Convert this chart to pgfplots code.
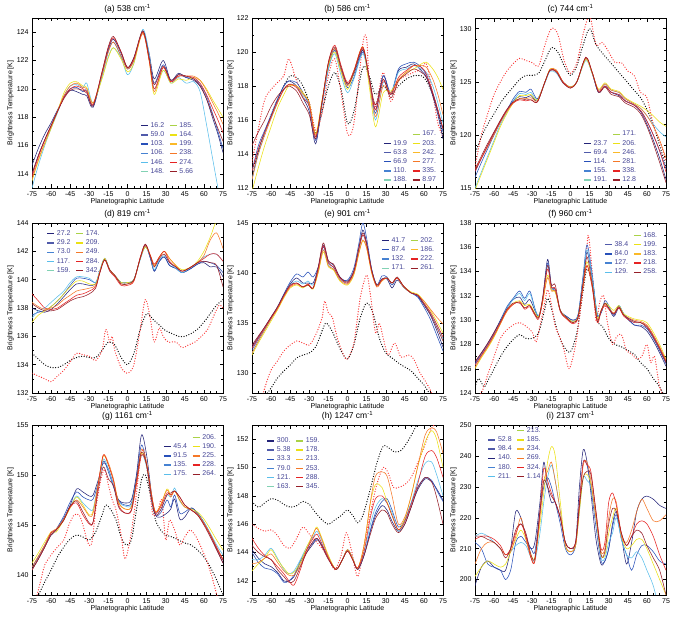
\documentclass[border=0pt]{standalone}
\usepackage{fontspec}
\setmainfont{Liberation Sans}
\usepackage{pgfplots}
\usepackage{pgfplotstable}
\pgfplotsset{compat=1.18}

\definecolor{L1}{RGB}{35,35,120}
\definecolor{L2}{RGB}{80,90,170}
\definecolor{L3}{RGB}{40,80,185}
\definecolor{L4}{RGB}{70,130,210}
\definecolor{L5}{RGB}{90,190,235}
\definecolor{L6}{RGB}{130,210,180}
\definecolor{L7}{RGB}{170,210,70}
\definecolor{L8}{RGB}{235,225,20}
\definecolor{L9}{RGB}{250,185,40}
\definecolor{L10}{RGB}{245,120,40}
\definecolor{L11}{RGB}{230,35,35}
\definecolor{L12}{RGB}{150,30,40}
\definecolor{legtext}{RGB}{70,70,150}
\definecolor{dotred}{RGB}{250,50,50}

\pgfplotsset{
  panel/.style={
    scale only axis, width=191pt, height=170pt, anchor=north west,
    xmin=-75, xmax=75, xtick={-75,-60,...,75}, minor x tick num=2,
    tick align=inside, major tick length=3.5pt, minor tick length=2pt,
    every tick/.style={black, line width=0.4pt},
    axis line style={line width=0.5pt},
    tick label style={font=\fontsize{7}{8}\selectfont},
    /pgf/number format/assume math mode=true,
    scaled y ticks=false,
    xlabel={Planetographic Latitude}, ylabel={Brightness Temperature [K]},
    label style={font=\fontsize{7}{8}\selectfont},
    xlabel style={yshift=5pt}, ylabel style={yshift=-4pt},
    title style={font=\fontsize{8.5}{9}\selectfont, yshift=-5pt},
    transpose legend, legend columns=6, legend cell align=left,
    legend style={draw=none, fill=none, text=legtext,
      font=\fontsize{7}{7.5}\selectfont, row sep=-1.2pt,
      /tikz/every even column/.append style={column sep=3pt},
      /tikz/every odd column/.append style={column sep=0pt}},
    legend image code/.code={\draw[#1, line width=1.3pt] (0pt,0pt) -- (7pt,0pt);},
    every axis plot/.append style={smooth, line width=0.55pt},
  },
  dotstyle/.style={line width=1.3pt, dash pattern=on 0pt off 2.6pt, line cap=round},
}

\newcommand\solids[1]{%
  \addplot[L1, forget plot] table[x=x, y=n]{#1};
  \addplot[L3, forget plot] table[x=x, y=b]{#1};
  \addplot[L5, forget plot] table[x=x, y=c]{#1};
  \addplot[L8, forget plot] table[x=x, y=y]{#1};
  \addplot[L10, forget plot] table[x=x, y=o]{#1};
  \addplot[L11, forget plot] table[x=x, y=r]{#1};
  \addplot[L12, forget plot] table[x=x, y=d]{#1};
}
\newcommand\dotk[1]{\addplot[black, dotstyle, forget plot] table{#1};}
\newcommand\dotr[1]{\addplot[dotred, dotstyle, forget plot] table{#1};}
\newcommand\lgd[2]{\addlegendimage{#1}\addlegendentry{#2}}
\newcommand\lgdempty{\addlegendimage{empty legend}\addlegendentry{\phantom{0}}}

% (a) 538
\pgfplotstableread{
x n b c y o r d
-75 114.6 114.0 113.0 113.5 113.6 113.8 114.0
-70 115.8 115.3 114.6 114.9 115.0 115.2 115.3
-65 116.8 116.4 116.0 116.1 116.2 116.4 116.4
-60 117.6 117.4 117.2 117.2 117.3 117.4 117.4
-55 118.5 118.4 118.3 118.4 118.4 118.4 118.4
-50 119.4 119.4 119.5 119.7 119.5 119.4 119.3
-45 119.9 120.0 120.2 120.4 120.2 120.0 119.9
-40 119.8 120.1 120.3 120.5 120.4 120.2 120.0
-35 119.6 119.8 120.1 120.2 120.1 120.0 119.9
-32 119.5 119.9 120.4 120.1 120.0 119.8 119.7
-27 118.7 118.8 119.0 119.0 119.0 118.9 118.8
-20 121.0 121.0 120.8 120.7 121.0 121.2 121.2
-15 122.8 122.7 122.3 122.2 122.6 122.9 123.0
-11 123.5 123.3 122.9 122.9 123.3 123.6 123.7
-5 122.5 122.3 122.2 122.1 122.3 122.6 122.6
0 121.5 121.4 121.0 121.2 121.4 121.5 121.5
5 122.2 122.0 121.8 121.8 122.0 122.1 122.2
12 124.0 124.1 124.2 124.0 123.9 124.0 124.1
17 122.5 122.3 122.5 122.0 122.0 122.0 122.2
21 120.7 120.4 120.0 119.6 119.8 120.0 120.3
28 122.0 121.7 121.3 121.3 121.5 121.5 121.6
34 120.6 120.6 120.4 120.4 120.5 120.5 120.6
40 121.1 121.0 120.8 120.7 120.9 120.9 121.0
46 120.8 120.8 120.4 120.6 120.9 120.9 120.9
52 120.6 120.7 120.5 120.8 120.9 120.8 120.7
57 120.2 120.3 119.8 120.6 120.6 120.4 120.2
62 119.3 119.5 117.5 120.0 119.9 119.6 119.3
67 117.9 118.2 115.0 119.2 119.0 118.6 118.1
71 116.8 117.0 113.0 118.6 118.3 117.8 117.2
75 115.5 115.8 111.0 118.0 117.5 116.9 116.3
}\TA

% (b) 586
\pgfplotstableread{
x n b c y o r d
-75 112.5 113.0 112.5 111.8 112.5 113.0 114.5
-70 114.2 114.5 114.0 113.2 114.0 114.3 115.3
-65 115.3 115.4 115.2 114.5 115.1 115.3 116.0
-60 116.2 116.3 116.1 115.6 116.1 116.2 116.8
-55 117.2 117.2 117.0 116.7 117.0 117.1 117.4
-50 118.0 118.0 117.8 117.5 117.8 117.8 117.8
-46 118.3 118.3 118.1 118.0 118.1 118.1 118.0
-40 118.0 118.2 118.0 118.0 118.0 117.9 117.7
-35 117.3 117.6 117.4 117.6 117.5 117.3 117.0
-30 116.5 116.8 116.8 117.0 117.0 116.8 116.3
-25 114.6 114.8 115.0 115.2 115.1 115.0 114.9
-20 117.0 116.9 116.9 117.2 117.1 117.0 117.1
-15 119.2 119.0 119.0 119.2 119.3 119.4 119.4
-10 120.2 120.1 119.9 120.0 120.2 120.4 120.3
-5 119.0 118.9 118.6 118.8 119.0 119.2 119.1
0 118.1 117.9 117.6 117.8 118.0 118.2 118.1
5 118.7 118.5 118.4 118.8 118.9 118.9 118.8
12 120.1 120.0 119.9 120.3 120.3 120.3 120.2
17 118.5 118.4 118.3 118.0 118.3 118.5 118.5
22 116.6 116.4 116.0 115.6 116.2 116.6 116.9
28 118.6 118.6 118.2 117.6 118.0 118.3 118.4
34 117.5 117.6 117.6 117.7 117.6 117.5 117.3
40 118.9 119.0 118.8 118.3 118.4 118.5 118.3
46 119.1 119.3 119.0 118.8 118.8 118.9 118.7
52 119.3 119.4 119.2 119.0 119.2 119.2 119.0
58 118.9 119.1 119.0 119.3 119.2 119.1 118.8
62 118.5 118.6 118.8 119.4 119.1 118.7 118.5
67 117.4 117.6 118.0 119.0 118.4 117.6 117.5
71 116.3 116.5 117.0 118.5 117.5 116.6 116.5
75 114.9 115.3 115.8 117.8 116.3 115.5 115.5
}\TB
\pgfplotstableread{
-75 113.0
-60 116.3
-50 118.0
-45 118.6
-40 118.5
-35 118.0
-30 117.0
-25 115.2
-20 116.5
-15 118.0
-10 118.8
-5 117.8
0 115.8
5 116.5
12 119.1
17 118.6
22 117.5
28 118.0
34 117.5
40 118.0
46 118.4
52 118.6
58 118.6
62 118.3
67 117.5
71 116.5
75 115.0
}\TBk
\pgfplotstableread{
-75 113.5
-70 115.5
-65 117.2
-60 117.8
-55 118.2
-50 118.6
-46 119.6
-40 118.3
-35 117.6
-30 117.0
-25 115.4
-20 116.4
-15 118.6
-10 119.6
-5 117.6
0 115.2
5 115.8
12 120.5
15 120.8
17 118.5
22 116.8
28 118.8
34 117.1
40 118.3
46 118.6
52 118.8
58 119.0
62 119.3
67 117.5
71 115.8
75 115.0
}\TBr

% (c) 744
\pgfplotstableread{
x n b c y o r d
-75 116.5 116.0 115.0 114.8 116.8 116.6 116.8
-70 117.8 117.4 116.5 116.3 117.8 117.8 118.0
-65 119.0 118.7 118.0 117.8 118.9 119.0 119.2
-60 120.2 120.0 119.5 119.3 120.0 120.2 120.3
-55 121.3 121.2 121.0 120.8 121.2 121.3 121.4
-50 122.3 122.3 122.1 122.0 122.2 122.3 122.4
-45 123.2 123.4 123.2 123.0 123.0 123.0 123.1
-40 123.6 124.1 123.9 123.7 123.4 123.3 123.4
-35 123.5 124.0 123.8 123.7 123.4 123.2 123.3
-31 123.7 124.3 124.0 123.8 123.5 123.3 123.3
-26 123.2 123.4 123.3 123.3 123.2 123.1 123.1
-20 125.0 125.0 124.9 125.0 125.0 125.0 125.0
-16 126.1 126.1 126.0 126.2 126.2 126.1 126.1
-11 126.0 126.0 125.8 126.0 126.1 126.0 125.9
-6 125.0 125.0 124.9 125.0 125.0 125.0 124.9
0 124.5 124.5 124.5 124.5 124.5 124.4 124.4
5 125.0 125.0 125.0 125.0 125.0 125.0 125.0
12 127.2 127.2 127.0 127.1 127.2 127.3 127.3
17 125.8 125.8 125.8 125.8 125.9 125.9 125.9
22 124.0 124.0 124.2 124.3 124.2 124.1 124.0
27 124.6 124.6 124.8 124.9 124.8 124.6 124.5
32 124.0 124.0 124.2 124.3 124.2 124.0 123.8
38 123.7 123.8 124.0 124.1 124.0 123.8 123.6
43 123.2 123.2 123.4 123.5 123.4 123.2 123.0
50 122.8 122.8 122.9 123.0 122.9 122.8 122.6
55 122.2 122.3 122.5 122.7 122.5 122.3 122.0
60 121.0 121.3 121.8 122.3 121.8 121.3 120.8
65 119.5 120.0 121.0 121.8 120.8 120.0 119.2
70 117.8 118.5 120.3 121.2 119.5 118.5 117.4
75 115.8 116.8 119.8 120.8 117.8 116.5 115.5
}\TC
\pgfplotstableread{
-75 118.2
-70 119.8
-65 121.0
-60 122.0
-55 123.0
-50 123.8
-45 124.5
-40 125.2
-35 125.6
-30 125.6
-25 125.8
-20 127.0
-15 128.2
-10 127.8
-5 126.5
0 125.6
5 126.5
10 128.5
15 130.0
20 128.5
25 127.7
30 127.0
35 126.3
40 125.6
45 124.9
50 124.2
55 123.5
60 122.4
65 121.0
70 119.0
75 117.0
}\TCk
\pgfplotstableread{
-75 117.0
-70 120.0
-65 122.0
-60 123.8
-55 125.0
-50 126.0
-45 126.7
-40 127.2
-35 127.0
-30 126.8
-25 126.5
-20 128.5
-15 130.0
-10 129.5
-5 127.0
0 125.8
5 126.8
10 129.5
15 131.2
20 128.5
25 128.7
30 127.8
35 126.8
40 126.8
45 126.0
50 125.6
55 124.0
60 123.5
65 121.0
70 119.5
75 117.5
}\TCr

% (d) 819
\pgfplotstableread{
x n b c y o r d
-75 138.0 137.5 137.3 137.0 138.4 139.0 138.3
-70 137.8 137.7 137.8 137.5 138.1 138.5 138.0
-65 137.7 137.8 138.0 137.8 137.9 138.0 137.8
-60 137.9 138.1 138.4 138.1 138.0 137.9 137.8
-55 138.3 138.5 138.8 138.5 138.2 138.0 137.9
-50 138.8 139.0 139.2 139.0 138.6 138.3 138.2
-45 139.3 139.6 139.8 139.5 138.9 138.6 138.5
-40 139.7 140.1 140.2 139.9 139.2 138.9 138.7
-35 139.7 140.1 140.2 139.9 139.3 139.0 138.8
-30 139.6 140.0 140.1 139.7 139.4 139.2 139.0
-25 139.7 139.8 139.8 139.7 139.6 139.5 139.4
-22 140.5 140.5 140.6 140.5 140.5 140.4 140.4
-18 141.5 141.5 141.5 141.5 141.4 141.4 141.4
-14 140.7 140.7 140.6 140.7 140.7 140.6 140.7
-10 140.3 140.3 140.3 140.3 140.3 140.2 140.3
-5 139.8 139.8 139.8 139.8 139.7 139.6 139.7
0 139.8 139.8 139.8 139.8 139.7 139.6 139.7
5 140.0 140.0 140.0 140.0 139.9 139.9 140.0
10 141.5 141.5 141.4 141.5 141.5 141.6 141.5
14 142.5 142.4 142.3 142.3 142.4 142.5 142.5
18 141.5 141.5 141.6 141.7 141.7 141.7 141.6
21 140.6 140.6 140.7 141.0 141.0 141.1 140.9
25 141.3 141.3 141.4 141.6 141.6 141.6 141.5
29 141.6 141.6 141.7 142.0 142.0 142.0 141.8
33 141.0 141.0 141.2 141.5 141.5 141.3 141.2
38 140.8 140.8 140.8 141.0 141.0 140.9 140.9
43 140.5 140.5 140.5 140.7 140.6 140.6 140.6
50 140.8 140.8 140.9 140.9 140.9 140.9 140.9
55 141.1 141.1 141.2 141.3 141.2 141.2 141.2
60 141.2 141.3 141.6 142.0 141.7 141.5 141.3
65 140.9 141.2 141.8 143.0 142.8 141.8 141.2
70 140.9 141.0 141.8 144.2 143.3 141.8 141.0
75 140.2 140.5 141.3 144.5 142.2 141.3 139.5
}\TD
\pgfplotstableread{
-75 134.8
-70 134.4
-65 134.0
-60 133.8
-55 133.8
-50 134.0
-45 134.3
-40 134.5
-35 134.6
-30 134.5
-25 134.5
-20 135.0
-15 135.6
-10 135.4
-5 134.5
0 134.0
5 134.8
10 136.5
15 137.6
20 137.2
25 136.8
30 136.4
35 136.2
40 136.0
45 136.0
50 136.2
55 136.5
60 137.0
65 137.6
70 138.2
75 138.6
}\TDk
\pgfplotstableread{
-75 133.4
-70 133.2
-65 133.0
-60 132.8
-55 133.2
-50 133.6
-45 134.2
-40 134.8
-35 134.7
-30 134.6
-25 134.3
-20 135.0
-17 136.5
-14 135.6
-12 136.0
-10 135.0
-5 133.8
0 133.4
5 134.0
10 136.5
14 138.6
18 137.2
21 135.6
25 136.6
28 136.0
32 135.6
38 135.6
43 135.2
48 135.4
53 135.6
58 136.0
63 136.5
68 137.5
72 138.2
75 138.0
}\TDr

% (e) 901
\pgfplotstableread{
x n b c y o r d
-75 132.6 132.3 132.0 131.8 132.0 132.5 132.8
-70 133.6 133.4 133.2 133.0 133.2 133.5 133.7
-65 134.6 134.4 134.3 134.1 134.3 134.5 134.6
-60 135.6 135.5 135.4 135.2 135.4 135.5 135.6
-55 136.6 136.6 136.5 136.3 136.4 136.5 136.6
-50 137.8 137.9 137.7 137.5 137.6 137.7 137.8
-45 138.9 139.1 138.8 138.5 138.6 138.7 138.8
-40 139.5 139.9 139.2 138.8 138.9 139.0 139.0
-35 139.0 139.6 138.9 138.5 138.6 138.6 138.6
-31 139.0 140.1 139.2 138.8 138.9 138.9 138.8
-27 139.0 139.6 138.8 138.4 138.5 138.5 138.5
-23 140.5 140.6 140.2 140.0 140.1 140.4 140.6
-19 142.8 142.6 142.3 142.1 142.3 142.7 143.0
-15 141.2 141.0 140.8 140.6 140.7 141.0 141.2
-11 140.8 140.6 140.4 140.3 140.4 140.6 140.9
-6 139.6 139.5 139.4 139.2 139.3 139.5 139.6
0 139.2 139.3 139.0 138.8 138.9 139.0 139.1
5 140.2 140.5 140.1 139.8 139.9 140.1 140.2
9 142.5 143.0 142.3 142.0 142.0 142.4 142.6
12 144.3 145.0 143.8 143.2 143.3 143.8 144.0
15 143.0 143.5 142.8 142.5 142.5 142.8 143.0
19 140.3 140.4 140.2 140.0 140.0 140.2 140.3
23 138.8 138.8 138.8 138.7 138.6 138.7 138.8
27 139.4 139.7 139.4 139.2 139.2 139.3 139.4
31 139.4 139.6 139.5 139.5 139.5 139.5 139.5
35 138.5 138.8 139.0 139.0 139.0 139.0 139.0
39 139.3 139.5 139.5 139.5 139.5 139.5 139.6
44 138.6 138.6 138.6 138.7 138.6 138.7 138.7
50 138.0 138.0 138.0 138.1 138.0 138.0 138.0
55 137.7 137.6 137.8 137.9 137.8 137.8 137.8
60 136.8 136.6 137.0 137.2 137.2 137.0 136.9
65 135.8 135.4 136.0 136.3 136.4 136.1 135.9
70 134.3 133.8 134.8 135.2 135.6 134.9 134.6
75 132.6 132.2 133.4 134.0 134.9 133.6 133.2
}\TE
\pgfplotstableread{
-75 125.0
-70 126.5
-65 127.6
-60 128.5
-55 129.5
-50 130.2
-45 130.8
-40 131.5
-35 131.8
-30 132.0
-25 132.6
-20 134.2
-17 135.0
-13 134.4
-10 133.6
-5 132.2
0 131.4
5 132.8
10 135.5
15 137.0
20 136.0
25 133.5
30 132.0
35 131.5
40 131.0
45 130.6
50 130.2
55 129.5
60 128.8
65 127.8
70 126.4
75 125.0
}\TEk
\pgfplotstableread{
-75 122.0
-70 126.0
-65 128.5
-60 130.3
-55 131.2
-50 132.2
-45 132.8
-40 133.2
-35 133.0
-30 132.8
-25 133.8
-20 135.5
-18 137.2
-15 136.0
-12 135.6
-8 133.5
-3 131.8
0 131.4
5 133.0
10 137.5
15 139.8
18 137.8
22 134.0
25 135.0
28 133.5
32 131.8
37 133.0
42 131.6
48 131.8
52 131.4
57 130.0
62 129.0
66 128.0
70 126.5
75 124.5
}\TEr

% (f) 960
\pgfplotstableread{
x n b c y o r d
-75 126.5 126.4 126.3 126.0 126.1 126.3 126.6
-70 127.3 127.2 127.1 126.9 127.0 127.1 127.3
-65 128.1 128.0 127.9 127.7 127.8 127.9 128.1
-60 129.0 128.9 128.8 128.6 128.7 128.8 129.0
-55 130.0 130.0 129.9 129.7 129.7 129.8 129.9
-50 131.0 131.1 131.0 130.8 130.7 130.8 130.9
-45 131.7 131.8 131.7 131.4 131.3 131.3 131.4
-40 131.9 132.4 132.2 131.6 131.5 131.5 131.4
-36 131.3 131.8 131.6 131.2 131.0 130.9 131.0
-32 131.7 132.4 132.2 131.3 131.2 131.1 131.2
-28 130.8 131.0 130.9 130.6 130.5 130.4 130.5
-25 130.3 130.3 130.4 130.3 130.2 130.1 130.2
-22 131.6 131.5 131.5 131.5 131.4 131.6 131.8
-18 135.0 134.7 134.5 133.7 133.5 134.2 134.5
-15 132.8 132.7 132.6 132.5 132.4 132.7 132.9
-12 132.5 132.4 132.4 132.3 132.4 132.6 132.9
-8 130.8 130.8 130.8 130.8 130.8 130.7 130.8
-3 130.3 130.3 130.2 130.2 130.1 130.1 130.2
2 130.0 130.0 129.9 129.9 129.8 129.7 129.8
6 130.4 130.5 130.4 130.3 130.3 130.2 130.3
10 133.5 133.8 133.5 133.0 132.8 133.0 133.2
13 135.6 136.2 135.8 134.8 134.5 134.5 135.2
17 133.5 133.8 133.6 133.0 132.8 132.7 133.0
21 130.5 130.4 130.5 130.2 130.0 129.8 130.0
24 130.6 130.6 130.7 130.8 130.8 130.7 130.8
27 131.4 131.6 131.4 131.4 131.3 131.2 131.4
30 131.0 131.2 131.1 131.2 131.0 130.9 131.0
34 130.3 130.4 130.5 130.8 130.6 130.5 130.5
38 131.0 131.2 131.2 131.2 131.1 131.0 131.1
42 130.4 130.5 130.5 130.5 130.4 130.3 130.4
50 129.6 129.6 129.8 130.1 130.0 129.8 129.9
55 129.5 129.6 129.8 130.0 129.9 129.8 129.8
60 129.1 129.3 129.5 129.8 129.6 129.5 129.4
65 128.3 128.5 128.7 129.0 128.8 128.7 128.6
70 127.3 127.5 127.7 128.0 127.8 127.7 127.6
75 126.2 126.4 126.6 126.8 126.7 126.6 126.5
}\TF
\pgfplotstableread{
-75 124.5
-72 125.2
-68 124.5
-65 125.0
-60 126.0
-55 127.0
-50 127.8
-45 128.4
-40 128.8
-35 128.5
-30 128.5
-25 129.0
-20 131.0
-18 131.8
-15 131.0
-10 129.0
-5 127.8
0 127.4
5 129.0
10 132.5
13 134.2
17 133.0
21 130.0
25 129.5
30 128.5
35 128.0
40 127.8
45 127.5
50 127.2
55 126.5
60 126.0
65 125.2
70 124.5
75 123.5
}\TFk
\pgfplotstableread{
-75 123.5
-70 124.0
-65 125.5
-60 127.0
-55 128.5
-50 129.2
-45 129.6
-40 129.8
-35 129.5
-30 129.0
-27 128.2
-24 129.5
-21 131.0
-18 132.5
-15 131.3
-12 129.5
-8 128.5
-5 127.5
-1 126.0
4 128.0
8 131.0
12 134.8
14 137.0
17 134.0
20 130.0
23 131.5
26 132.0
29 129.8
33 128.0
36 128.6
40 128.8
44 127.5
48 127.2
52 126.8
56 127.0
60 128.0
63 126.5
66 127.0
70 124.5
75 123.5
}\TFr

% (g) 1161
\pgfplotstableread{
x n b c y o r d
-75 140.6 140.8 140.5 141.2 140.8 140.5 140.5
-70 141.6 141.8 141.6 142.2 141.9 141.6 141.6
-65 142.8 143.0 142.8 143.3 143.0 142.8 142.8
-60 144.0 144.2 144.0 144.3 144.3 144.2 144.0
-56 144.5 144.6 144.5 144.3 144.6 144.5 144.5
-50 145.7 145.9 145.6 145.5 145.6 145.5 145.5
-45 147.0 147.3 146.8 146.7 146.8 146.8 146.9
-40 148.6 148.3 147.9 147.8 147.5 147.2 147.4
-35 148.3 147.8 147.2 147.0 146.8 146.0 146.3
-30 147.9 147.5 146.6 146.0 145.9 145.1 145.2
-27 148.0 147.6 146.6 146.4 146.2 145.3 145.3
-23 149.5 149.2 149.2 149.0 149.2 149.0 148.5
-19 151.2 151.4 151.6 151.9 152.0 152.0 150.8
-15 150.6 150.3 150.6 151.0 151.2 151.0 149.6
-11 149.0 148.8 149.0 149.5 149.6 149.4 148.9
-7 147.5 147.4 147.3 147.2 147.3 147.0 146.8
-2 147.2 147.0 146.9 146.6 146.6 146.2 146.2
3 147.5 147.2 147.0 146.8 146.8 146.4 146.5
7 150.0 149.8 149.5 149.2 149.3 149.0 149.5
11 154.0 153.0 152.0 152.2 152.6 152.0 152.3
15 152.0 151.0 150.8 151.0 151.2 151.0 151.0
19 148.0 147.5 147.5 147.8 148.0 147.8 147.5
22 146.0 146.0 146.2 146.3 146.3 146.2 146.0
26 145.8 146.2 146.5 147.0 147.0 146.8 146.5
31 146.2 147.5 148.0 148.6 148.5 148.2 148.0
34 146.6 146.8 147.8 148.0 147.8 148.0 148.2
37 147.6 148.0 148.7 148.4 148.4 148.4 148.4
41 145.6 146.2 147.4 147.5 147.5 147.8 147.8
45 145.8 146.3 146.8 146.8 146.8 147.0 147.0
50 146.7 146.7 146.5 146.6 146.5 146.5 146.5
55 146.2 146.2 146.1 146.3 146.1 146.0 146.0
60 145.2 145.3 145.3 145.6 145.2 145.1 145.0
65 144.0 144.1 144.2 144.6 144.1 144.0 143.8
70 142.6 142.8 143.0 143.5 142.8 142.7 142.5
75 141.2 141.5 142.0 142.5 141.6 141.5 141.2
}\TG
\pgfplotstableread{
-75 137.0
-70 138.0
-65 139.3
-60 140.5
-55 141.8
-50 142.8
-45 143.6
-40 144.0
-35 143.8
-30 143.5
-25 144.3
-20 146.0
-17 147.0
-13 146.5
-9 145.5
-5 143.8
-1 143.0
3 143.5
7 146.5
11 149.5
14 150.0
18 148.0
22 145.5
26 144.5
30 144.0
35 143.8
40 143.5
45 143.2
50 143.0
55 142.5
60 141.8
65 140.8
70 139.5
75 138.0
}\TGk
\pgfplotstableread{
-75 136.0
-72 137.5
-68 139.5
-65 141.0
-60 142.0
-55 142.8
-50 143.5
-46 145.0
-42 146.0
-38 146.0
-35 145.0
-31 143.2
-28 143.2
-25 146.5
-21 149.5
-18 150.5
-15 149.0
-12 147.5
-9 146.5
-5 144.0
-2 141.6
2 143.5
6 147.0
10 151.5
13 152.5
17 149.0
20 146.0
24 146.5
27 147.5
30 143.5
33 145.5
37 144.5
41 143.0
45 143.8
49 144.5
53 144.0
57 143.0
62 141.5
67 139.5
72 137.0
75 135.0
}\TGr

% (h) 1247
\pgfplotstableread{
x n b c y o r d
-75 144.2 144.0 143.5 142.7 143.2 145.0 144.5
-70 143.6 143.3 143.5 143.2 143.3 144.3 144.0
-65 143.2 142.9 143.8 143.6 143.6 143.8 143.7
-60 143.0 142.8 144.3 144.2 143.9 143.5 143.5
-55 142.6 142.5 143.6 143.5 143.3 143.0 142.8
-50 142.0 141.9 142.8 142.9 142.7 142.5 142.3
-46 142.0 142.0 142.5 142.5 142.4 142.0 141.9
-42 142.3 142.4 142.7 142.6 142.4 141.7 142.0
-37 143.3 143.4 143.5 143.3 143.1 142.8 143.0
-32 144.0 144.2 144.4 144.4 144.2 144.2 144.0
-27 144.6 144.7 145.1 145.3 145.3 145.0 144.8
-24 144.9 145.0 145.5 145.8 145.7 145.3 145.0
-20 144.5 144.5 144.8 145.0 144.9 144.6 144.4
-15 143.6 143.6 143.7 143.8 143.7 143.6 143.5
-9 142.8 142.8 142.8 142.8 142.8 142.8 142.8
-4 143.5 143.5 143.5 143.5 143.5 143.5 143.5
0 144.2 144.2 144.2 144.2 144.2 144.1 144.1
4 143.6 143.6 143.6 143.6 143.6 143.5 143.5
8 142.8 142.8 142.8 142.9 142.9 142.9 142.8
13 143.8 143.8 144.0 144.5 144.5 144.1 143.8
18 145.5 145.6 146.0 147.5 147.6 146.5 145.3
22 146.6 146.8 147.2 148.8 149.4 147.8 146.4
27 147.3 147.6 147.8 148.6 149.7 148.0 147.0
31 147.0 147.8 147.5 147.6 149.4 147.5 146.8
35 146.2 147.0 146.8 146.6 148.0 146.6 146.0
40 145.5 145.8 145.5 145.6 146.0 145.6 145.4
45 146.0 146.3 146.2 146.4 146.5 146.2 146.0
50 147.2 147.5 147.5 148.0 148.0 147.4 147.2
55 148.4 148.6 149.0 150.0 150.0 148.8 148.5
61 149.2 149.3 150.3 151.8 152.3 150.8 149.3
66 149.0 149.1 150.4 152.6 152.8 151.2 149.0
70 148.5 148.4 149.5 152.0 152.5 150.7 147.9
75 147.7 147.6 148.0 150.0 151.0 149.3 146.0
}\TH
\pgfplotstableread{
-75 147.6
-70 147.2
-65 147.5
-60 147.8
-55 147.7
-50 147.4
-45 147.2
-40 147.3
-35 147.6
-30 147.4
-25 146.8
-20 146.3
-15 146.0
-10 146.3
-5 146.6
0 147.0
5 146.5
8 146.1
12 146.6
18 148.5
23 150.3
28 151.5
32 151.4
37 151.1
42 151.2
47 151.8
52 152.6
57 153.5
60 154.0
}\THk
\pgfplotstableread{
-75 146.0
-70 145.7
-65 145.5
-60 145.6
-55 145.2
-50 144.5
-45 144.3
-40 145.0
-35 145.8
-30 145.3
-25 144.8
-20 144.3
-15 143.6
-10 142.8
-5 143.8
-1 145.4
3 144.2
8 142.3
13 144.5
18 146.8
23 148.8
28 150.0
32 149.6
36 148.6
40 148.6
45 148.8
50 149.3
55 150.3
60 151.4
65 152.6
70 153.2
}\THr

% (i) 2137
\pgfplotstableread{
x n b c y o r d
-75 198 212 214 201 205 213 214
-70 204 210 215 204 210 214 214
-65 206 205 214 206 212 214 213
-60 204 204 212 205 212 213 212
-55 203 203 210 204 210 211 210
-51 203 200 208 205 208 208 207
-47 210 203 209 209 209 210 210
-43 222 212 211 213 214 215 216
-39 220 214 212 216 220 218 218
-35 214 212 211 213 213 214 215
-31 210 210 207 208 207 207 208
-28 212 209 206 207 206 206 207
-24 225 222 215 218 220 222 222
-21 238 230 225 228 232 236 232
-18 230 233 233 238 235 232 230
-15 225 230 237 243 238 228 227
-12 225 225 232 240 232 225 225
-8 220 218 222 225 222 220 220
-4 212 210 211 211 211 212 212
0 210 208 209 209 209 210 210
4 212 211 211 211 211 212 212
7 230 225 222 222 223 225 224
10 242 238 233 233 237 238 233
13 238 237 232 234 238 237 235
16 228 230 230 231 232 235 234
20 213 217 220 220 220 222 222
24 205 206 207 208 209 210 208
27 206 206 207 208 210 212 209
30 210 210 212 215 220 225 218
33 218 217 215 220 226 228 223
36 222 221 220 223 225 224 222
40 214 213 213 214 214 215 215
44 205 208 208 210 212 211 211
48 212 203 207 211 216 214 214
52 222 208 209 213 222 218 216
56 226 211 207 213 226 219 215
60 227 211 203 210 223 218 211
65 226 209 198 205 219 214 207
70 224 206 190 200 219 208 203
75 223 205 185 195 221 203 195
}\TI

\begin{document}
\begin{tikzpicture}
\useasboundingbox (0pt,0pt) rectangle (675pt,-618pt);

\begin{axis}[panel, at={(32pt,-18pt)}, title={(a) 538 cm\textsuperscript{-1}},
  ymin=113, ymax=125, ytick={114,116,...,124}, minor y tick num=1,
  legend columns=6, legend style={at={(0.55,0.41)}, anchor=north west}]
\solids{\TA}
\lgd{L1}{16.2}\lgd{L2}{59.0}\lgd{L3}{103.}\lgd{L4}{106.}\lgd{L5}{146.}\lgd{L6}{148.}
\lgd{L7}{185.}\lgd{L8}{164.}\lgd{L9}{199.}\lgd{L10}{238.}\lgd{L11}{274.}\lgd{L12}{5.66}
\end{axis}

\begin{axis}[panel, at={(252pt,-18pt)}, title={(b) 586 cm\textsuperscript{-1}},
  ymin=112, ymax=122, ytick={112,114,...,122}, minor y tick num=1,
  legend columns=6, legend style={at={(0.67,0.36)}, anchor=north west}]
\dotk{\TBk}\dotr{\TBr}
\solids{\TB}
\lgdempty\lgd{L1}{19.9}\lgd{L2}{63.8}\lgd{L3}{66.9}\lgd{L4}{110.}\lgd{L6}{188.}
\lgd{L7}{167.}\lgd{L8}{203.}\lgd{L9}{242.}\lgd{L10}{277.}\lgd{L11}{335.}\lgd{L12}{8.97}
\end{axis}

\begin{axis}[panel, at={(475pt,-18pt)}, title={(c) 744 cm\textsuperscript{-1}},
  ymin=115, ymax=131, ytick={115,120,125,130}, minor y tick num=4,
  legend columns=6, legend style={at={(0.55,0.36)}, anchor=north west}]
\dotk{\TCk}\dotr{\TCr}
\solids{\TC}
\lgdempty\lgd{L1}{23.7}\lgd{L2}{69.4}\lgd{L3}{114.}\lgd{L4}{155.}\lgd{L6}{191.}
\lgd{L7}{171.}\lgd{L8}{206.}\lgd{L9}{246.}\lgd{L10}{281.}\lgd{L11}{338.}\lgd{L12}{12.8}
\end{axis}

\begin{axis}[panel, at={(32pt,-223pt)}, title={(d) 819 cm\textsuperscript{-1}},
  ymin=132, ymax=144, ytick={132,134,...,144}, minor y tick num=1,
  legend columns=5, legend style={at={(0.06,0.98)}, anchor=north west}]
\dotk{\TDk}\dotr{\TDr}
\solids{\TD}
\lgd{L1}{27.2}\lgd{L2}{29.2}\lgd{L4}{73.0}\lgd{L5}{117.}\lgd{L6}{159.}
\lgd{L7}{174.}\lgd{L8}{209.}\lgd{L10}{249.}\lgd{L11}{284.}\lgd{L12}{342.}
\end{axis}

\begin{axis}[panel, at={(252pt,-223pt)}, title={(e) 901 cm\textsuperscript{-1}},
  ymin=128, ymax=145, ytick={130,135,140,145}, minor y tick num=4,
  legend columns=4, legend style={at={(0.66,0.94)}, anchor=north west}]
\dotk{\TEk}\dotr{\TEr}
\solids{\TE}
\lgd{L1}{41.7}\lgd{L3}{87.4}\lgd{L4}{132.}\lgd{L6}{171.}
\lgd{L7}{202.}\lgd{L9}{186.}\lgd{L11}{222.}\lgd{L12}{261.}
\end{axis}

\begin{axis}[panel, at={(475pt,-223pt)}, title={(f) 960 cm\textsuperscript{-1}},
  ymin=124, ymax=138, ytick={124,126,...,138}, minor y tick num=1,
  legend columns=5, legend style={at={(0.66,0.97)}, anchor=north west}]
\dotk{\TFk}\dotr{\TFr}
\solids{\TF}
\lgdempty\lgd{L2}{38.4}\lgd{L3}{84.0}\lgd{L4}{127.}\lgd{L5}{129.}
\lgd{L7}{168.}\lgd{L8}{199.}\lgd{L9}{183.}\lgd{L11}{218.}\lgd{L12}{258.}
\end{axis}

\begin{axis}[panel, at={(32pt,-425pt)}, title={(g) 1161 cm\textsuperscript{-1}},
  ymin=138, ymax=155, ytick={140,145,150,155}, minor y tick num=4,
  legend columns=5, legend style={at={(0.67,0.97)}, anchor=north west}]
\dotk{\TGk}\dotr{\TGr}
\solids{\TG}
\lgdempty\lgd{L1}{45.4}\lgd{L3}{91.5}\lgd{L4}{135.}\lgd{L5}{175.}
\lgd{L7}{206.}\lgd{L8}{190.}\lgd{L10}{225.}\lgd{L11}{228.}\lgd{L12}{264.}
\end{axis}

\begin{axis}[panel, at={(252pt,-425pt)}, title={(h) 1247 cm\textsuperscript{-1}},
  ymin=141, ymax=153, ytick={142,144,...,152}, minor y tick num=1,
  legend columns=6, legend style={at={(0.06,0.95)}, anchor=north west}]
\dotk{\THk}\dotr{\THr}
\solids{\TH}
\lgd{L1}{300.}\lgd{L2}{5.38}\lgd{L3}{33.3}\lgd{L4}{79.0}\lgd{L5}{121.}\lgd{L6}{163.}
\lgd{L7}{159.}\lgd{L8}{178.}\lgd{L9}{213.}\lgd{L10}{253.}\lgd{L11}{288.}\lgd{L12}{345.}
\end{axis}

\begin{axis}[panel, at={(475pt,-425pt)}, title={(i) 2137 cm\textsuperscript{-1}},
  ymin=195, ymax=250, ytick={200,210,...,250}, minor y tick num=1,
  legend columns=6, legend style={at={(0.05,1.01)}, anchor=north west}]
\solids{\TI}
\lgdempty\lgd{L2}{52.8}\lgd{L2}{98.4}\lgd{L1}{140.}\lgd{L4}{180.}\lgd{L5}{211.}
\lgd{L7}{213.}\lgd{L8}{185.}\lgd{L9}{234.}\lgd{L10}{269.}\lgd{L11}{324.}\lgd{L12}{1.14}
\end{axis}
\end{tikzpicture}
\end{document}
